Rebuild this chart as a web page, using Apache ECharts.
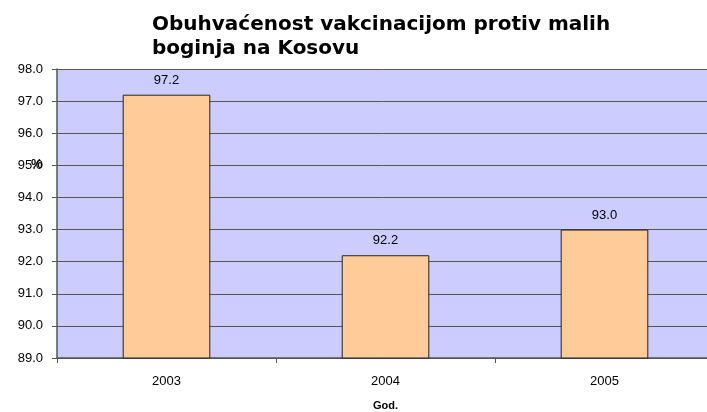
<!DOCTYPE html>
<html><head><meta charset="utf-8">
<script src="https://cdn.jsdelivr.net/npm/echarts@6/dist/echarts.min.js"></script>
<style>html,body{margin:0;padding:0;background:#fff}#c{width:707px;height:412px}</style>
</head><body><div id="c"></div>
<script>
const categories = ['2003', '2004', '2005'];
const values = [97.2, 92.2, 93.0];
const yTicks = [89, 90, 91, 92, 93, 94, 95, 96, 97, 98];
const titleText = 'Obuhvaćenost vakcinacijom protiv malih\nboginja na Kosovu';

const chart = echarts.init(document.getElementById('c'), null, {renderer: 'canvas'});
chart.setOption({
  animation: false,
  backgroundColor: '#ffffff',
  title: {
    text: titleText,
    left: 147, top: 8,
    textStyle: {fontFamily: 'DejaVu Sans', fontWeight: 'bold', fontSize: 20, color: '#000', lineHeight: 24}
  },
  grid: {left: 57, right: -7, top: 69, bottom: 54, show: true, backgroundColor: '#ccccff', borderWidth: 0,
    outerBoundsMode: 'none', containLabel: false},
  xAxis: {
    type: 'category', data: categories,
    name: 'God.', nameLocation: 'middle', nameGap: 42,
    nameTextStyle: {fontFamily: 'Liberation Sans', fontWeight: 'bold', fontSize: 11, color: '#000'},
    axisLine: {lineStyle: {color: '#555', width: 1.5}},
    axisTick: {show: true, length: 5, lineStyle: {color: '#555'}},
    axisLabel: {fontFamily: 'Liberation Sans', fontSize: 13, color: '#000', margin: 17}
  },
  yAxis: {
    type: 'value', min: yTicks[0], max: yTicks[yTicks.length - 1], interval: 1,
    axisLine: {show: true, lineStyle: {color: '#555', width: 1.5}},
    axisTick: {show: true, length: 5, lineStyle: {color: '#555'}},
    axisLabel: {fontFamily: 'Liberation Sans', fontSize: 13, color: '#000', margin: 14,
      formatter: v => v.toFixed(1)},
    splitLine: {show: true, lineStyle: {color: '#555', width: 1}}
  },
  graphic: [{
    type: 'text', left: 31, top: 158,
    style: {text: '%', fontFamily: 'Liberation Sans', fontWeight: 'bold', fontSize: 13, fill: '#000'}
  }],
  series: [{
    type: 'bar', data: values, barWidth: '40%',
    itemStyle: {color: '#ffcc99', borderColor: '#222', borderWidth: 1},
    label: {show: true, position: 'top', distance: 8, fontFamily: 'Liberation Sans', fontSize: 13, color: '#000',
      formatter: p => p.value.toFixed(1)}
  }]
});
</script></body></html>
